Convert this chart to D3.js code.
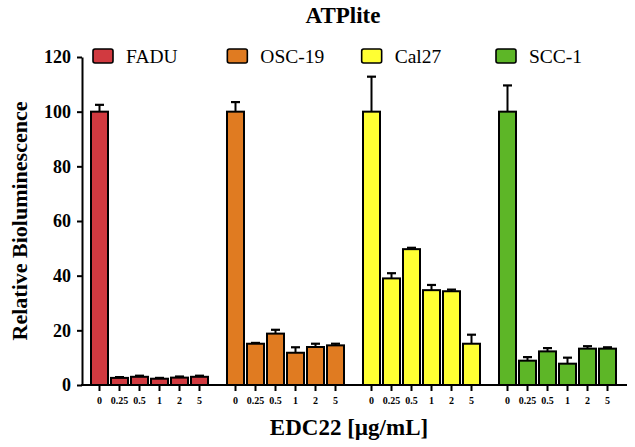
<!DOCTYPE html>
<html>
<head>
<meta charset="utf-8">
<script src="https://cdn.jsdelivr.net/npm/d3@7"></script>
<style>
  html, body { margin: 0; padding: 0; background: #fff; }
  svg { display: block; }
  text { font-family: "Liberation Serif", "Times New Roman", serif; fill: #000; }
</style>
</head>
<body>
<svg id="chart" width="635" height="447"></svg>
<script>
// ---- data ----
const groups = ["FADU", "OSC-19", "Cal27", "SCC-1"];
const doses = ["0", "0.25", "0.5", "1", "2", "5"];
const colors = ["#d13a40", "#e07b21", "#ffff33", "#5db627"];
const valFADU = [100, 2.6, 3.0, 2.3, 2.7, 3.0];
const errFADU = [2.5, 0.3, 0.4, 0.3, 0.4, 0.4];
const valOSC = [100, 15.1, 18.8, 11.8, 13.9, 14.5];
const errOSC = [3.5, 0.3, 1.4, 2.0, 1.2, 0.6];
const valCal = [100, 39.0, 49.7, 34.7, 34.3, 15.1];
const errCal = [12.8, 1.9, 0.5, 1.9, 0.6, 3.3];
const valSCC = [100, 8.9, 12.3, 7.8, 13.3, 13.3];
const errSCC = [9.6, 1.3, 1.2, 2.2, 0.9, 0.5];
const yTicks = [0, 20, 40, 60, 80, 100, 120];
const titleText = "ATPlite";
const yLabel = "Relative Bioluminescence";
const xLabel = "EDC22 [\u00b5g/mL]";

const values = [valFADU, valOSC, valCal, valSCC];
const errors = [errFADU, errOSC, errCal, errSCC];
const rows = [];
groups.forEach((g, gi) => doses.forEach((d, di) => rows.push({
  group: g, dose: d, value: values[gi][di], err: errors[gi][di], color: colors[gi]
})));

// ---- scales ----
const svg = d3.select("#chart");
const y = d3.scaleLinear().domain([0, 120]).range([385, 57]);
const x0 = d3.scaleBand().domain(groups).range([84, 628]);
const x1 = d3.scaleBand().domain(doses).range([5.5, 125.5]).paddingInner(0.15).paddingOuter(0.075);
const xl = d3.scalePoint().domain(groups).range([93, 496]);

// ---- title ----
svg.append("text").attr("x", 343).attr("y", 23).attr("text-anchor", "middle")
  .attr("font-weight", "bold").attr("font-size", 23).text(titleText);

// ---- y axis ----
const yAxis = svg.append("g").attr("transform", "translate(82,0)")
  .call(d3.axisLeft(y).tickValues(yTicks).tickSize(5).tickSizeOuter(0).tickPadding(6));
yAxis.select(".domain").attr("stroke", "#000").attr("stroke-width", 2);
yAxis.selectAll(".tick line").attr("stroke", "#000").attr("stroke-width", 2);
yAxis.selectAll(".tick text").attr("font-family", "Liberation Serif, serif")
  .attr("font-weight", "bold").attr("font-size", 18).attr("fill", "#000");

svg.append("text").attr("transform", "translate(27,221) rotate(-90)")
  .attr("text-anchor", "middle").attr("font-weight", "bold").attr("font-size", 22).text(yLabel);

// ---- bars ----
const gG = svg.append("g");
const bars = gG.selectAll("g.bar").data(rows).enter().append("g")
  .attr("transform", d => `translate(${x0(d.group) + x1(d.dose)},0)`);

// error bars (upwards)
bars.append("line")
  .attr("x1", x1.bandwidth() / 2).attr("x2", x1.bandwidth() / 2)
  .attr("y1", d => y(d.value)).attr("y2", d => y(d.value + d.err))
  .attr("stroke", "#000").attr("stroke-width", 2);
bars.append("line")
  .attr("x1", x1.bandwidth() / 2 - 4.5).attr("x2", x1.bandwidth() / 2 + 4.5)
  .attr("y1", d => y(d.value + d.err)).attr("y2", d => y(d.value + d.err))
  .attr("stroke", "#000").attr("stroke-width", 2.2);

bars.append("rect")
  .attr("x", 0).attr("width", x1.bandwidth())
  .attr("y", d => y(d.value)).attr("height", d => y(0) - y(d.value))
  .attr("fill", d => d.color).attr("stroke", "#000").attr("stroke-width", 2);

// x ticks + labels
bars.append("line")
  .attr("x1", x1.bandwidth() / 2).attr("x2", x1.bandwidth() / 2)
  .attr("y1", y(0)).attr("y2", y(0) + 6)
  .attr("stroke", "#000").attr("stroke-width", 2);
bars.append("text")
  .attr("x", x1.bandwidth() / 2).attr("y", 404)
  .attr("text-anchor", "middle").attr("font-weight", "bold").attr("font-size", 10)
  .text(d => d.dose);

// baseline
svg.append("line").attr("x1", 81).attr("x2", 627).attr("y1", y(0)).attr("y2", y(0))
  .attr("stroke", "#000").attr("stroke-width", 2);

// x label
svg.append("text").attr("x", 349).attr("y", 435).attr("text-anchor", "middle")
  .attr("font-weight", "bold").attr("font-size", 23).text(xLabel);

// ---- legend ----
const leg = svg.append("g").selectAll("g").data(groups).enter().append("g")
  .attr("transform", g => `translate(${xl(g)},49)`);
leg.append("rect").attr("width", 20).attr("height", 14).attr("rx", 2)
  .attr("fill", (g, i) => colors[i]).attr("stroke", "#000").attr("stroke-width", 1.6);
leg.append("text").attr("x", 33).attr("y", 14).attr("font-size", 19.5).text(g => g);
</script>
</body>
</html>
